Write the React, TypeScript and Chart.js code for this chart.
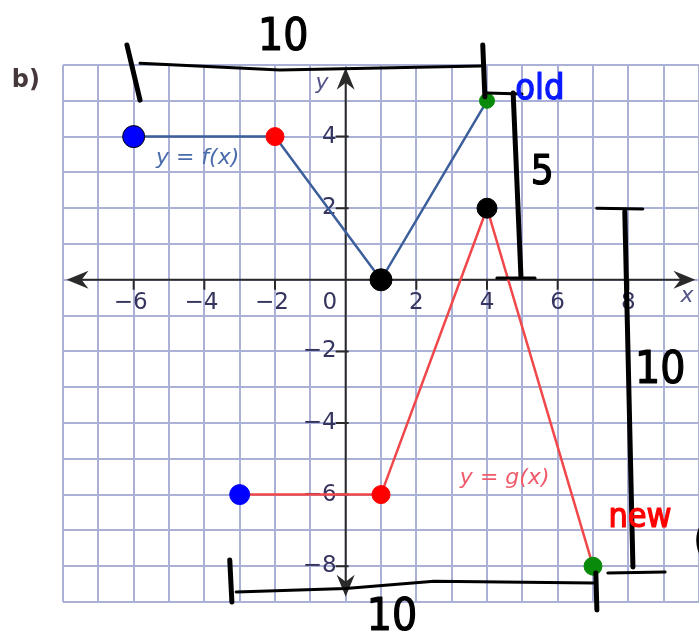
import React, { useEffect, useRef } from 'react';
import { Chart, registerables } from 'chart.js';

Chart.register(...registerables);

// ---- data (graph units) ----
const fX = [-6, -2, 1, 4];
const fY = [4, 4, 0, 5];
const gX = [-3, 1, 4, 7];
const gY = [-6, -6, 2, -8];

const xTickValues = [-6, -4, -2, 2, 4, 6, 8];
const yTickValues = [4, 2, -2, -4, -6, -8];

const blueDotsX = [-6, -3];
const blueDotsY = [4, -6];
const redDotsX = [-2, 1];
const redDotsY = [4, -6];
const blackDotsX = [1, 4];
const blackDotsY = [0, 2];
const greenDotsX = [4, 7];
const greenDotsY = [5, -8];

// handwritten annotations (graph units)
const inkStrokes: { pts: number[][]; w: number }[] = [
  { pts: [[-5.82, 6.05], [-1.86, 5.86], [3.81, 5.97]], w: 3 },
  { pts: [[-6.19, 6.56], [-5.82, 5.02]], w: 5 },
  { pts: [[3.88, 6.56], [3.94, 5.11]], w: 5 },
  { pts: [[4.74, 5.22], [4.96, 0.1]], w: 5 },
  { pts: [[4.0, 5.22], [4.99, 5.19]], w: 3 },
  { pts: [[4.28, 0.05], [5.36, 0.05]], w: 3 },
  { pts: [[7.9, 1.9], [8.13, -8.02]], w: 5 },
  { pts: [[7.11, 2.0], [8.41, 1.98]], w: 3 },
  { pts: [[7.42, -8.19], [9.04, -8.16]], w: 3 },
  { pts: [[-3.28, -7.83], [-3.22, -9.0]], w: 5 },
  { pts: [[-3.1, -8.72], [0, -8.62], [2.5, -8.42], [7.0, -8.47]], w: 3 },
  { pts: [[7.08, -8.19], [7.11, -9.22]], w: 5 },
];
const inkTexts: { t: string; x: number; y: number; c: string; s: number }[] = [
  { t: '10', x: -1.77, y: 6.75, c: '#000000', s: 44 },
  { t: '5', x: 5.56, y: 2.98, c: '#000000', s: 40 },
  { t: 'old', x: 5.5, y: 5.3, c: '#0a1aff', s: 36 },
  { t: '10', x: 8.9, y: -2.57, c: '#000000', s: 44 },
  { t: 'new', x: 8.33, y: -6.65, c: '#ff0000', s: 34 },
  { t: '10', x: 1.31, y: -9.45, c: '#000000', s: 44 },
  { t: '(', x: 10.05, y: -7.33, c: '#000000', s: 40 },
];

const fmt = (v: number) => (v < 0 ? '\u2212' + Math.abs(v) : String(v));

const axesPlugin = {
  id: 'axesThroughOrigin',
  beforeDatasetsDraw(chart: any) {
    const ctx = chart.ctx as CanvasRenderingContext2D;
    const xs = chart.scales.x;
    const ys = chart.scales.y;
    const X = (v: number) => xs.getPixelForValue(v);
    const Y = (v: number) => ys.getPixelForValue(v);
    const ax = X(0);
    const ay = Y(0);
    ctx.save();
    ctx.strokeStyle = '#2a2a2a';
    ctx.fillStyle = '#2a2a2a';
    ctx.lineWidth = 2;
    const xl = X(-7.9), xr = X(9.9), yt = Y(5.92), yb = Y(-8.85);
    ctx.beginPath();
    ctx.moveTo(xl + 8, ay);
    ctx.lineTo(xr - 8, ay);
    ctx.moveTo(ax, yt + 8);
    ctx.lineTo(ax, yb - 8);
    ctx.stroke();
    const arrow = (tx: number, ty: number, dx: number, dy: number) => {
      const L = 22, W = 9, N = 15;
      const px = -dy, py = dx;
      ctx.beginPath();
      ctx.moveTo(tx, ty);
      ctx.lineTo(tx - dx * L + px * W, ty - dy * L + py * W);
      ctx.lineTo(tx - dx * N, ty - dy * N);
      ctx.lineTo(tx - dx * L - px * W, ty - dy * L - py * W);
      ctx.closePath();
      ctx.fill();
    };
    arrow(xl, ay, -1, 0);
    arrow(xr, ay, 1, 0);
    arrow(ax, yt, 0, -1);
    arrow(ax, yb, 0, 1);
    // tick marks
    ctx.beginPath();
    xTickValues.forEach((v) => {
      ctx.moveTo(X(v), ay);
      ctx.lineTo(X(v), ay + 10);
    });
    yTickValues.forEach((v) => {
      ctx.moveTo(ax - 10, Y(v));
      ctx.lineTo(ax + 3, Y(v));
    });
    ctx.stroke();
    // tick labels
    ctx.fillStyle = '#34345e';
    ctx.font = '23px "DejaVu Sans"';
    ctx.textAlign = 'center';
    ctx.textBaseline = 'middle';
    xTickValues.forEach((v) => {
      ctx.fillText(fmt(v), X(v) - (v < 0 ? 3 : 0), ay + 23);
    });
    ctx.fillText('0', X(-0.45), ay + 23);
    ctx.textAlign = 'right';
    yTickValues.forEach((v) => {
      ctx.fillText(fmt(v), ax - 9, Y(v));
    });
    // axis names
    ctx.font = 'italic 22px "DejaVu Sans"';
    ctx.fillStyle = '#55558a';
    ctx.textAlign = 'center';
    ctx.fillText('y', X(-0.67), Y(5.5));
    ctx.fillText('x', X(9.66), Y(-0.45));
    // function labels
    ctx.font = 'italic 22px "DejaVu Sans"';
    ctx.fillStyle = '#4a6cab';
    ctx.fillText('y = f(x)', X(-4.19), Y(3.4));
    ctx.fillStyle = '#f05a6a';
    ctx.fillText('y = g(x)', X(4.5), Y(-5.54));
    // part label
    ctx.font = 'bold 24px "DejaVu Sans"';
    ctx.fillStyle = '#45383a';
    ctx.fillText('b)', X(-9.05), Y(5.55));
    ctx.restore();
  },
  afterDatasetsDraw(chart: any) {
    const ctx = chart.ctx as CanvasRenderingContext2D;
    const xs = chart.scales.x;
    const ys = chart.scales.y;
    const X = (v: number) => xs.getPixelForValue(v);
    const Y = (v: number) => ys.getPixelForValue(v);
    ctx.save();
    ctx.strokeStyle = '#000000';
    ctx.lineCap = 'round';
    ctx.lineJoin = 'round';
    inkStrokes.forEach((s) => {
      ctx.lineWidth = s.w;
      ctx.beginPath();
      s.pts.forEach((p, i) => {
        if (i === 0) ctx.moveTo(X(p[0]), Y(p[1]));
        else ctx.lineTo(X(p[0]), Y(p[1]));
      });
      ctx.stroke();
    });
    ctx.textAlign = 'center';
    ctx.textBaseline = 'middle';
    inkTexts.forEach((t) => {
      ctx.font = `${t.s}px "DejaVu Sans Condensed", "DejaVu Sans"`;
      ctx.fillStyle = t.c;
      ctx.strokeStyle = t.c;
      ctx.lineWidth = 1.2;
      ctx.fillText(t.t, X(t.x), Y(t.y));
      ctx.strokeText(t.t, X(t.x), Y(t.y));
    });
    ctx.restore();
  },
};

const pts = (xa: number[], ya: number[]) => xa.map((x, i) => ({ x, y: ya[i] }));

const zeroH = (s: any) => {
  s.height = 0;
  s.paddingLeft = 0;
  s.paddingRight = 0;
  s.paddingTop = 0;
  s.paddingBottom = 0;
};
const zeroW = (s: any) => {
  s.width = 0;
  s.paddingLeft = 0;
  s.paddingRight = 0;
  s.paddingTop = 0;
  s.paddingBottom = 0;
};

export default function App() {
  const ref = useRef<HTMLCanvasElement | null>(null);
  useEffect(() => {
    if (!ref.current) return;
    const chart = new Chart(ref.current, {
      type: 'scatter',
      data: {
        datasets: [
          {
            data: pts(blueDotsX, blueDotsY),
            pointRadius: [11, 10],
            pointBackgroundColor: '#0000ff',
            pointBorderColor: ['#000000', '#0000ff'],
            pointBorderWidth: 1,
            showLine: false,
          },
          {
            data: pts(redDotsX, redDotsY),
            pointRadius: [9, 9],
            pointBackgroundColor: '#ff0000',
            pointBorderColor: '#ff0000',
            showLine: false,
          },
          {
            data: pts(blackDotsX, blackDotsY),
            pointRadius: [11, 10],
            pointBackgroundColor: '#000000',
            pointBorderColor: '#000000',
            showLine: false,
          },
          {
            data: pts(greenDotsX, greenDotsY),
            pointRadius: [7.5, 9],
            pointBackgroundColor: '#0a8a0a',
            pointBorderColor: '#0a8a0a',
            showLine: false,
          },
          {
            data: pts(fX, fY),
            showLine: true,
            borderColor: '#3c5f9b',
            borderWidth: 2.5,
            pointRadius: 0,
          },
          {
            data: pts(gX, gY),
            showLine: true,
            borderColor: '#f0474a',
            borderWidth: 2.5,
            pointRadius: 0,
          },
        ],
      },
      options: {
        animation: false,
        responsive: false,
        maintainAspectRatio: false,
        clip: false,
        layout: { autoPadding: false, padding: { left: 63, top: 65, right: 0, bottom: 37 } },
        plugins: { legend: { display: false }, tooltip: { enabled: false } },
        scales: {
          x: {
            type: 'linear',
            min: -8,
            max: 10,
            afterFit: zeroH,
            ticks: { display: false, stepSize: 1 },
            grid: { color: '#abb0d7', lineWidth: 2, drawTicks: false },
            border: { display: false },
          },
          y: {
            type: 'linear',
            min: -9,
            max: 6,
            afterFit: zeroW,
            ticks: { display: false, stepSize: 1 },
            grid: { color: '#abb0d7', lineWidth: 2, drawTicks: false },
            border: { display: false },
          },
        },
      },
      plugins: [axesPlugin],
    });
    return () => chart.destroy();
  }, []);
  return (
    <div style={{ position: 'absolute', left: 0, top: 0, width: 699, height: 639, background: '#ffffff' }}>
      <canvas ref={ref} width={699} height={639} style={{ display: 'block', width: 699, height: 639 }} />
    </div>
  );
}
